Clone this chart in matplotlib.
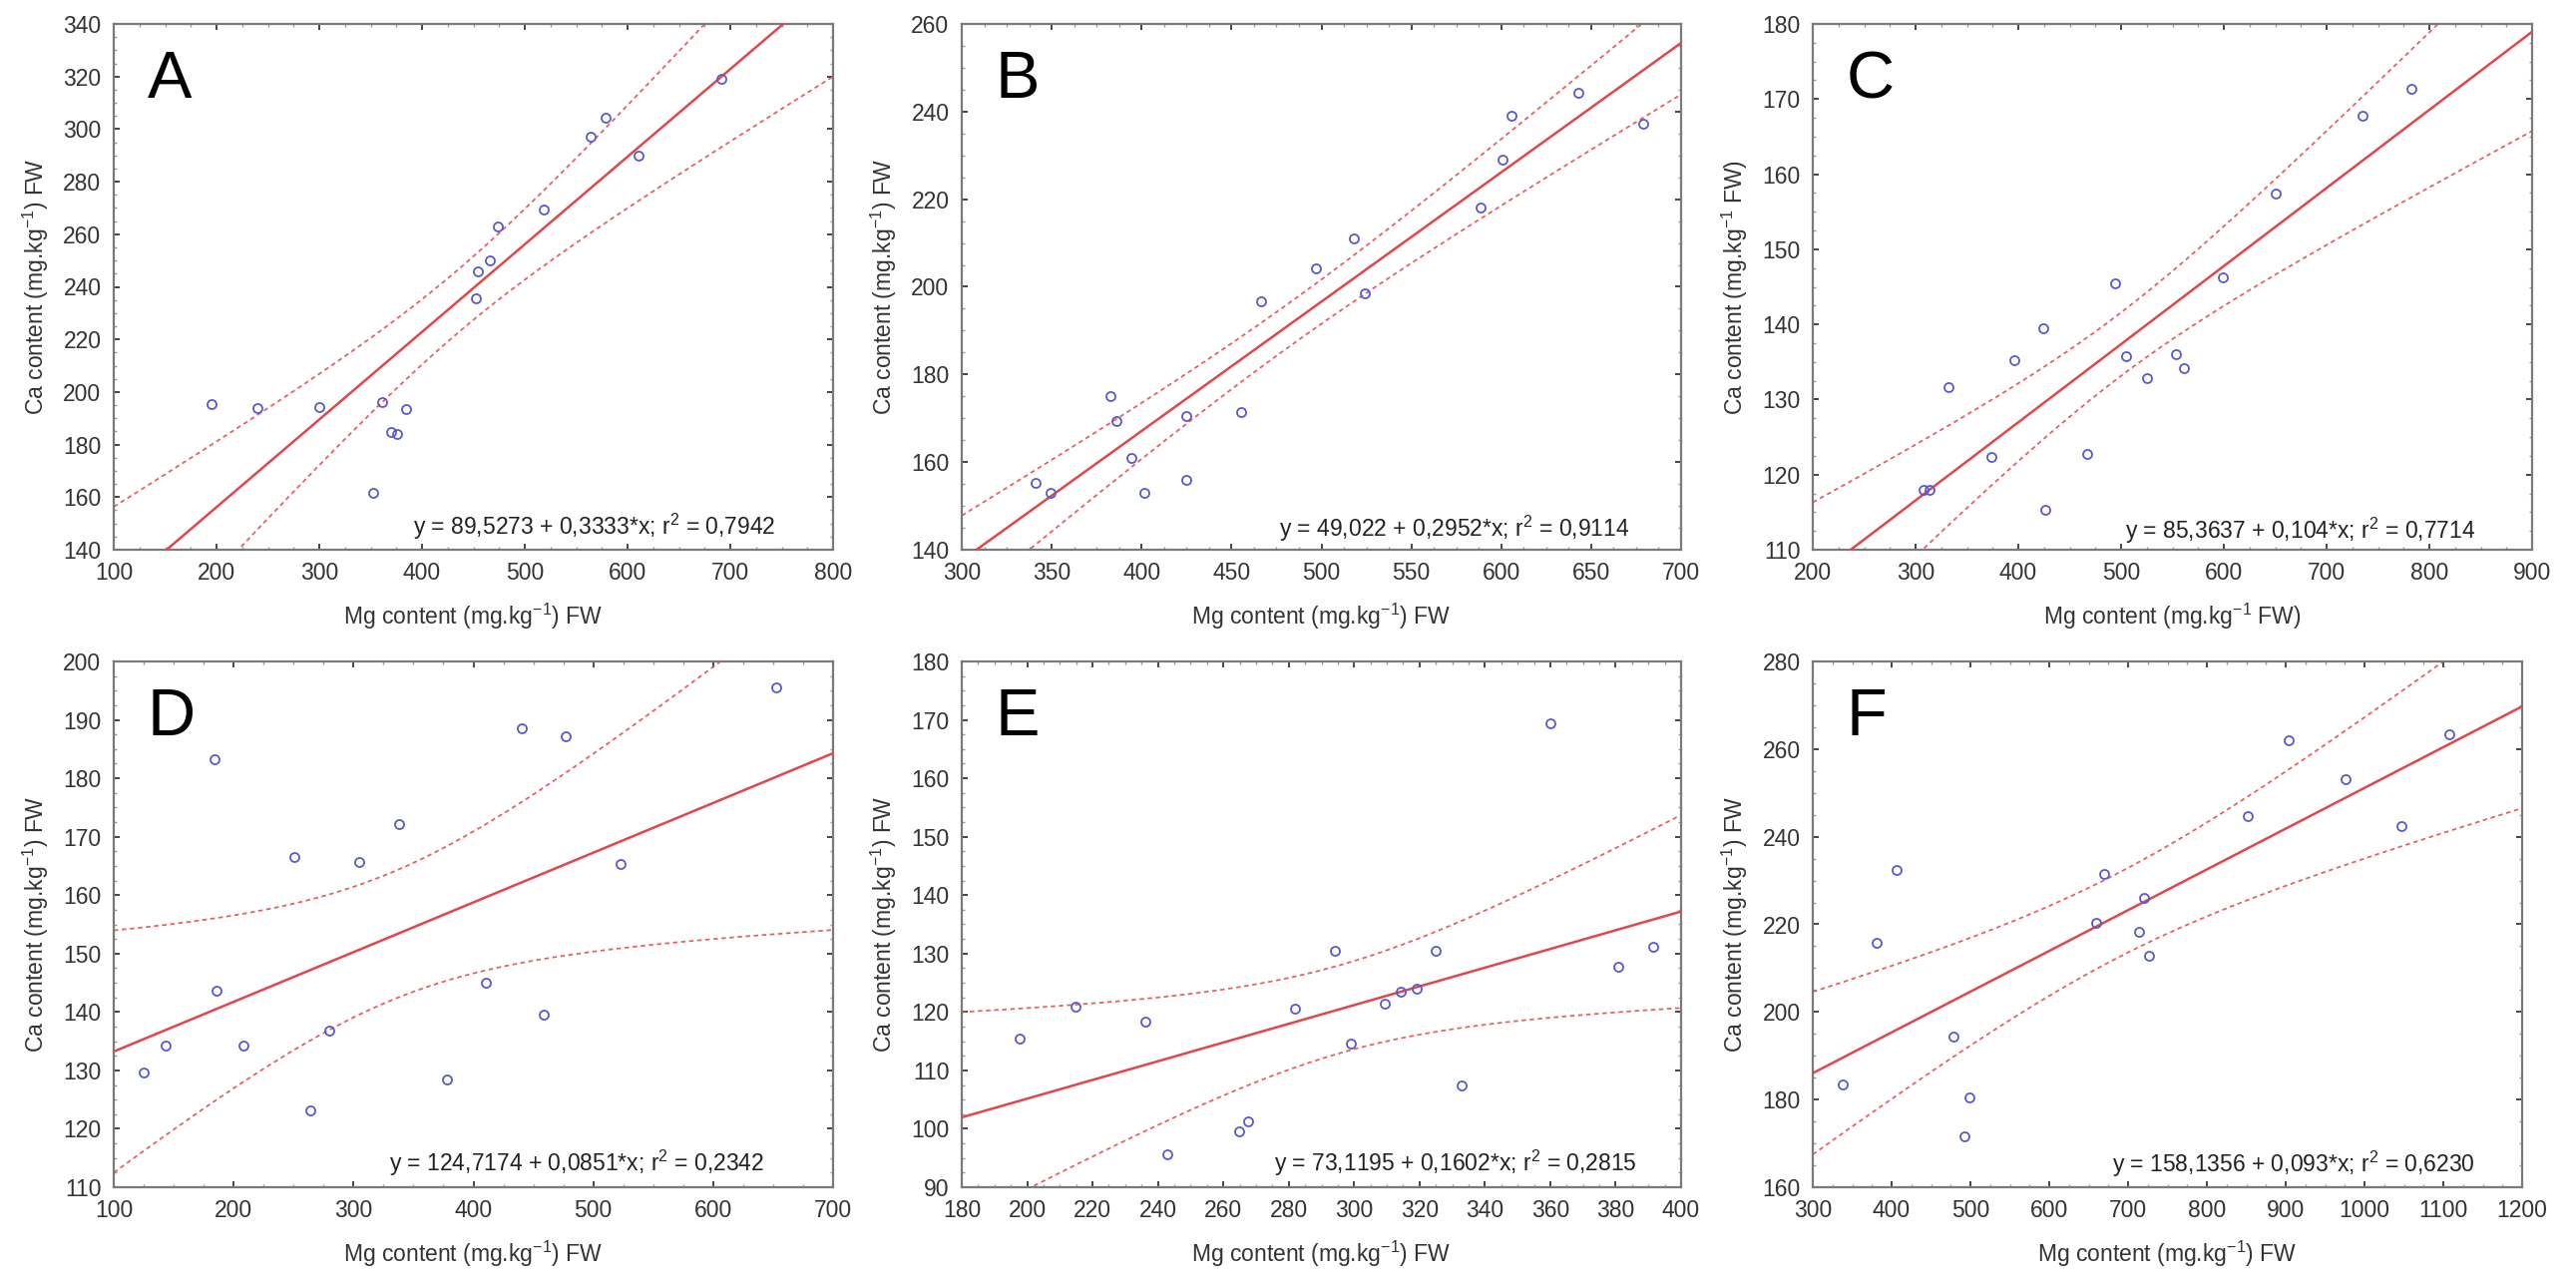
import numpy as np
import matplotlib
matplotlib.use("Agg")
import matplotlib.pyplot as plt
from matplotlib.ticker import AutoMinorLocator

plt.rcParams['font.family'] = ['Liberation Sans', 'DejaVu Sans']
plt.rcParams['mathtext.fontset'] = 'custom'
plt.rcParams['mathtext.rm'] = 'Liberation Sans'
plt.rcParams['mathtext.it'] = 'Liberation Sans:italic'
plt.rcParams['mathtext.default'] = 'regular'

# ---------------- data ----------------
A_mg = [195, 240, 300, 361, 384, 370, 376, 352, 452, 454, 466, 474, 518, 564, 579, 611, 691]
A_ca = [195.5, 194, 194.4, 196, 193.6, 184.6, 184.1, 161.8, 235.6, 245.8, 250.2, 263, 269.3, 297, 304.4, 290, 319.2]

B_mg = [341, 349.6, 382.4, 385.8, 394.3, 401.3, 425, 425, 455.5, 466.7, 497.1, 517.8, 524.2, 588.4, 600.5, 605.7, 643.1, 678.7]
B_ca = [155.2, 152.9, 175, 169.4, 161, 153, 170.6, 155.9, 171.4, 196.7, 204.1, 211, 198.6, 218.1, 229, 239, 244.4, 237.2]

C_mg = [308, 313.3, 332, 373.7, 396, 424, 426.6, 466.7, 494.5, 504.7, 525.5, 553.8, 560.8, 599.3, 650, 734.5, 782.6]
C_ca = [118, 118, 131.6, 122.4, 135.3, 139.5, 115.3, 122.8, 145.5, 135.8, 132.8, 136.1, 134.2, 146.3, 157.4, 167.8, 171.4]

D_mg = [124.7, 143.4, 184, 185.5, 208.4, 250.9, 263.7, 279.7, 304.4, 337.8, 378, 410, 440.2, 458.9, 476.7, 523, 652.4]
D_ca = [129.6, 134.3, 183.3, 143.6, 134.3, 166.6, 123.2, 136.8, 165.7, 172.1, 128.4, 145, 188.5, 139.5, 187.2, 165.3, 195.6]

E_mg = [197.8, 214.9, 236.1, 242.8, 264.8, 267.6, 281.9, 294, 298.9, 309.4, 314.3, 319, 324.9, 332.9, 360, 380.7, 391.6]
E_ca = [115.5, 120.9, 118.3, 95.7, 99.6, 101.3, 120.5, 130.5, 114.6, 121.4, 123.4, 123.9, 130.5, 107.4, 169.4, 127.7, 131.1]

F_mg = [338.3, 381.5, 405.9, 478.3, 492.3, 499.2, 660.1, 669.9, 714.5, 720.7, 727, 851.7, 903.9, 975.7, 1047.4, 1107.3]
F_ca = [183.4, 215.7, 232.4, 194.3, 171.6, 180.4, 220.4, 231.6, 218.4, 226.1, 212.9, 244.6, 261.9, 253.1, 242.5, 263.4]

# regression coefficients printed on the panels
intercepts = [89.5273, 49.022, 85.3637, 124.7174, 73.1195, 158.1356]
slopes = [0.3333, 0.2952, 0.104, 0.0851, 0.1602, 0.093]
equations = [
    "y = 89,5273 + 0,3333*x; r$^2$ = 0,7942",
    "y = 49,022 + 0,2952*x; r$^2$ = 0,9114",
    "y = 85,3637 + 0,104*x; r$^2$ = 0,7714",
    "y = 124,7174 + 0,0851*x; r$^2$ = 0,2342",
    "y = 73,1195 + 0,1602*x; r$^2$ = 0,2815",
    "y = 158,1356 + 0,093*x; r$^2$ = 0,6230",
]
letters = ["A", "B", "C", "D", "E", "F"]

x_limits = [(100, 800), (300, 700), (200, 900), (100, 700), (180, 400), (300, 1200)]
y_limits = [(140, 340), (140, 260), (110, 180), (110, 200), (90, 180), (160, 280)]
x_ticks = [np.arange(100, 801, 100), np.arange(300, 701, 50), np.arange(200, 901, 100),
           np.arange(100, 701, 100), np.arange(180, 401, 20), np.arange(300, 1201, 100)]
y_ticks = [np.arange(140, 341, 20), np.arange(140, 261, 20), np.arange(110, 181, 10),
           np.arange(110, 201, 10), np.arange(90, 181, 10), np.arange(160, 281, 20)]

xlabel_std = "Mg content (mg.kg$^{-1}$) FW"
ylabel_std = "Ca content (mg.kg$^{-1}$) FW"
xlabels = [xlabel_std, xlabel_std, "Mg content (mg.kg$^{-1}$ FW)", xlabel_std, xlabel_std, xlabel_std]
ylabels = [ylabel_std, ylabel_std, "Ca content (mg.kg$^{-1}$ FW)", ylabel_std, ylabel_std, ylabel_std]

# two-sided 95 % Student t values by degrees of freedom
t95 = {14: 2.1448, 15: 2.1314, 16: 2.1199}

datasets = [(A_mg, A_ca), (B_mg, B_ca), (C_mg, C_ca), (D_mg, D_ca), (E_mg, E_ca), (F_mg, F_ca)]

# ---------------- layout ----------------
W, H = 2582, 1286
fig = plt.figure(figsize=(W / 100, H / 100), dpi=100)
fig.patch.set_facecolor("white")

col_left = [114, 964, 1817]
col_width = [721, 721, 721]
row_top = [24, 663]
ax_h = 527
f_width_override = {5: 711}

red = "#e0474c"
blue = "#5a5ad0"
frame = "#7a7a7a"
txt = "#333333"

eq_pos = [(0.920, 0.043), (0.928, 0.040), (0.921, 0.036), (0.905, 0.046), (0.939, 0.046), (0.933, 0.044)]

for i in range(6):
    r, c = divmod(i, 3)
    w = f_width_override.get(i, col_width[c])
    left = col_left[c] / W
    bottom = 1 - (row_top[r] + ax_h) / H
    ax = fig.add_axes([left, bottom, w / W, ax_h / H])

    xs = np.array(datasets[i][0], dtype=float)
    ys = np.array(datasets[i][1], dtype=float)
    a, b = intercepts[i], slopes[i]
    xlo, xhi = x_limits[i]

    # confidence band for the mean response
    n = len(xs)
    resid = ys - (a + b * xs)
    s = np.sqrt(np.sum(resid ** 2) / (n - 2))
    xbar = xs.mean()
    sxx = np.sum((xs - xbar) ** 2)
    xx = np.linspace(xlo, xhi, 300)
    yy = a + b * xx
    half = t95[n - 2] * s * np.sqrt(1.0 / n + (xx - xbar) ** 2 / sxx)

    ax.plot(xx, yy + half, color=red, lw=1.3, ls=(0, (2.5, 2.0)), alpha=0.85, zorder=2)
    ax.plot(xx, yy - half, color=red, lw=1.3, ls=(0, (2.5, 2.0)), alpha=0.85, zorder=2)
    ax.plot(xx, yy, color=red, lw=1.8, zorder=3)

    ax.plot(xs, ys, ls="none", marker="o", ms=6.5, mfc="none", mec=blue, mew=1.3, zorder=4)

    ax.set_xlim(x_limits[i])
    ax.set_ylim(y_limits[i])
    ax.set_xticks(x_ticks[i])
    ax.set_yticks(y_ticks[i])
    ax.set_xticklabels([str(int(v)) for v in x_ticks[i]])
    ax.set_yticklabels([str(int(v)) for v in y_ticks[i]])
    ax.xaxis.set_minor_locator(AutoMinorLocator(4))
    ax.yaxis.set_minor_locator(AutoMinorLocator(4))

    for sp in ax.spines.values():
        sp.set_color(frame)
        sp.set_linewidth(1.6)

    ax.tick_params(axis="both", which="major", direction="in", length=4, width=1.4,
                   color="#444444", labelsize=16.5, labelcolor=txt,
                   top=True, right=True, pad=9)
    ax.tick_params(axis="both", which="minor", direction="in", length=2.5, width=1.0,
                   color="#9a9a9a", top=True, right=True)

    ax.set_xlabel(xlabels[i], fontsize=16.5, color=txt, labelpad=12)
    ax.set_ylabel(ylabels[i], fontsize=16.5, color=txt, labelpad=9)

    ax.text(0.047, 0.95, letters[i], transform=ax.transAxes, fontsize=48,
            ha="left", va="top", color="black")

    ex, ey = eq_pos[i]
    ax.text(ex, ey, equations[i], transform=ax.transAxes, fontsize=16.5,
            ha="right", va="center", color="#222222")

fig.savefig("out.png", dpi=100, facecolor="white")
